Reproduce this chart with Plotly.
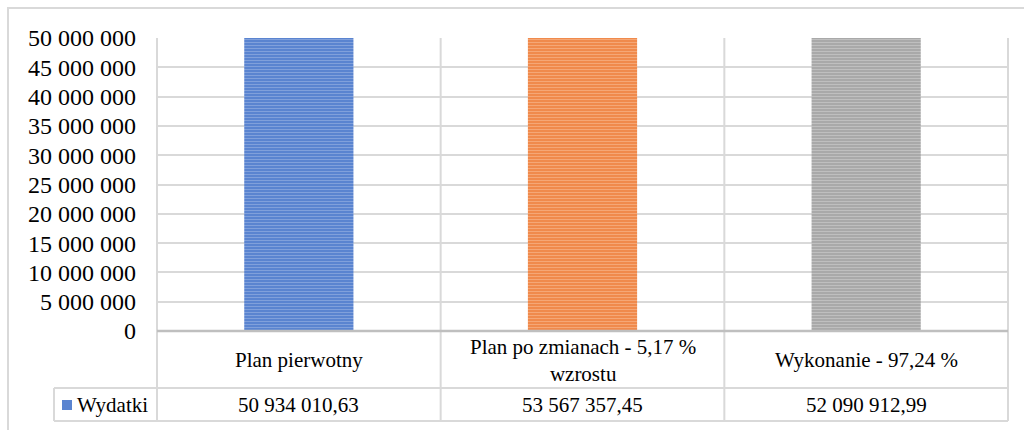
import plotly.graph_objects as go

# Data
categories = ["Plan pierwotny", "Plan po zmianach - 5,17 %<br>wzrostu", "Wykonanie - 97,24 %"]
values = [50934010.63, 53567357.45, 52090912.99]
series_name = "Wydatki"
bar_colors = ["#5a84d0", "#f08a4c", "#a9a9a9"]
stripe_colors = ["#a6bce6", "#f9c3a0", "#d6d6d6"]
y_ticks = [0, 5000000, 10000000, 15000000, 20000000, 25000000,
           30000000, 35000000, 40000000, 45000000, 50000000]


def fmt_int(v):
    return f"{int(v):,}".replace(",", " ")


def fmt_dec(v):
    return f"{v:,.2f}".replace(",", " ").replace(".", ",")


W, H = 1024, 430
PL, PR, PT, PB = 157, 1008, 38, 331  # plot area in pixels


def px(x):
    return (x - PL) / (PR - PL)


def py(y):
    return (PB - y) / (PB - PT)


FONT = "Times New Roman, Liberation Serif, Tinos, DejaVu Serif, serif"
GRID = "#d9d9d9"

fig = go.Figure()
# one trace per bar so each gets its own stripe colours
for i in range(len(categories)):
    fig.add_trace(go.Bar(
        x=[i],
        y=[values[i]],
        width=0.385,
        name=series_name,
        marker=dict(
            color=bar_colors[i],
            line=dict(width=0),
            pattern=dict(shape="-", fgcolor=stripe_colors[i],
                         bgcolor=bar_colors[i], size=3, solidity=0.35,
                         fillmode="overlay"),
        ),
        showlegend=False,
        hoverinfo="skip",
    ))

shapes = []
# outer chart frame (top and left edges visible)
shapes.append(dict(type="rect", xref="paper", yref="paper",
                   x0=px(8), x1=px(1040), y0=py(445), y1=py(8),
                   line=dict(color=GRID, width=2), layer="below"))
# vertical table / category separators
n = len(categories)
for i in range(n + 1):
    xx = i / n
    shapes.append(dict(type="line", xref="paper", yref="paper",
                       x0=xx, x1=xx, y0=py(421), y1=1,
                       line=dict(color=GRID, width=2), layer="below"))
# table horizontal lines
for yy in (388, 421):
    shapes.append(dict(type="line", xref="paper", yref="paper",
                       x0=px(54), x1=1, y0=py(yy), y1=py(yy),
                       line=dict(color=GRID, width=2)))
# legend cell left edge
shapes.append(dict(type="line", xref="paper", yref="paper",
                   x0=px(54), x1=px(54), y0=py(388), y1=py(421),
                   line=dict(color=GRID, width=2)))
# category axis line
shapes.append(dict(type="line", xref="paper", yref="paper",
                   x0=0, x1=1, y0=0, y1=0,
                   line=dict(color="#bfbfbf", width=2.5)))
# legend key
shapes.append(dict(type="rect", xref="paper", yref="paper",
                   x0=px(62), x1=px(72), y0=py(410), y1=py(400),
                   fillcolor=bar_colors[0], line=dict(width=0)))

annotations = []
for i, cat in enumerate(categories):
    annotations.append(dict(x=i, xref="x", y=py(360), yref="paper",
                            text=cat, showarrow=False, xanchor="center",
                            yanchor="middle",
                            font=dict(family=FONT, size=21, color="#000000")))
    annotations.append(dict(x=i, xref="x", y=py(405), yref="paper",
                            text=fmt_dec(values[i]), showarrow=False,
                            xanchor="center", yanchor="middle",
                            font=dict(family=FONT, size=21, color="#000000")))
annotations.append(dict(x=px(75), xref="paper", y=py(405), yref="paper",
                        text=series_name, showarrow=False, xanchor="left",
                        yanchor="middle",
                        font=dict(family=FONT, size=21, color="#000000")))

fig.update_layout(
    width=W, height=H,
    margin=dict(l=PL, r=W - PR, t=PT, b=H - PB, pad=0),
    paper_bgcolor="white", plot_bgcolor="white",
    font=dict(family=FONT),
    barmode="overlay",
    xaxis=dict(range=[-0.5, n - 0.5], showticklabels=False, showgrid=False,
               zeroline=False, showline=False, ticks="", fixedrange=True),
    yaxis=dict(range=[0, 50000000], tickvals=y_ticks,
               ticktext=[fmt_int(v) for v in y_ticks],
               showgrid=True, gridcolor=GRID, gridwidth=1.5,
               zeroline=False, showline=False, ticks="",
               ticklabelstandoff=20,
               tickfont=dict(family=FONT, size=24, color="#000000"),
               fixedrange=True),
    shapes=shapes,
    annotations=annotations,
)

fig.write_html("out.html")
